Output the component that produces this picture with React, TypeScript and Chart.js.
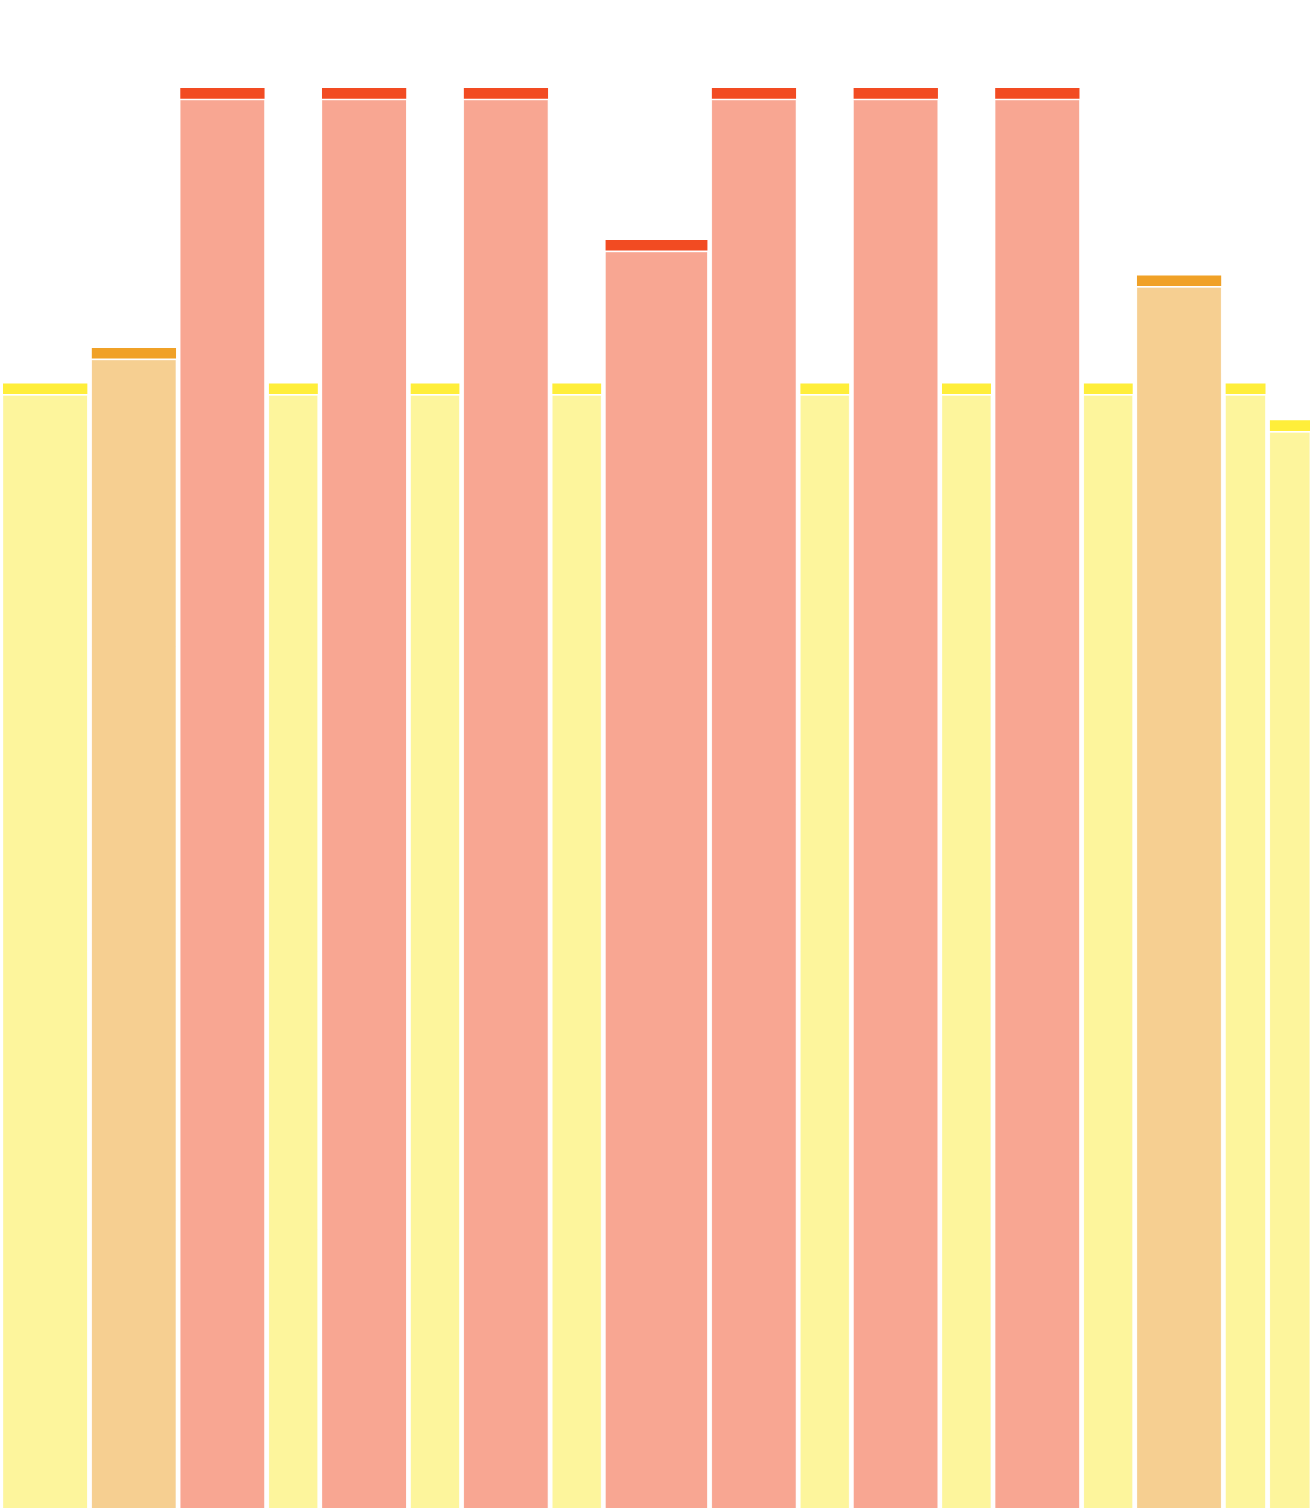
import React, { useEffect, useRef } from "react";
import { Chart, registerables } from "chart.js";

Chart.register(...registerables);

// relative column widths (in width units) and column values
const widths = [20, 20, 20, 12, 20, 12, 20, 12, 24, 20, 12, 20, 12, 20, 12, 20, 10, 10];
const values = [79.2, 81.7, 100, 79.2, 100, 79.2, 100, 79.2, 89.3, 100, 79.2, 100, 79.2, 100, 79.2, 86.8, 79.2, 76.6];

const tiers = [
  { min: 88, strip: "#F24B22", fill: "#F8A692" },
  { min: 80, strip: "#F0A127", fill: "#F6CF91" },
  { min: 0, strip: "#FFEE3A", fill: "#FDF59C" }
];

const Y_MAX = 106.2;
const GAP = 0.45; // half gap between columns, width units
const STRIP = 0.75; // strip height, value units
const STRIP_GAP = 0.1;

const tierFor = (v: number) => tiers.find((t) => v >= t.min) || tiers[2];

const buildDatasets = () => {
  const out: any[] = [];
  let left = 0;
  widths.forEach((w, i) => {
    const v = values[i];
    const t = tierFor(v);
    const x0 = left + GAP;
    const x1 = left + w - GAP;
    const top = v - STRIP - STRIP_GAP;
    out.push({
      data: [
        { x: x0, y: 0 },
        { x: x0, y: top },
        { x: x1, y: top },
        { x: x1, y: 0 }
      ],
      fill: "origin",
      backgroundColor: t.fill,
      borderColor: "rgba(255,255,255,0.35)",
      borderWidth: 1,
      pointRadius: 0,
      tension: 0
    });
    out.push({
      data: [
        { x: x0, y: v },
        { x: x1, y: v }
      ],
      fill: { value: v - STRIP },
      backgroundColor: t.strip,
      borderColor: "transparent",
      borderWidth: 1,
      pointRadius: 0,
      tension: 0
    });
    left += w;
  });
  return out;
};

const total = widths.reduce((a, b) => a + b, 0);

export default function App() {
  const chartRef = useRef<HTMLCanvasElement>(null);

  useEffect(() => {
    const chartInstance = new Chart(chartRef.current as HTMLCanvasElement, {
      type: "line",
      data: { datasets: buildDatasets() },
      options: {
        animation: false,
        responsive: true,
        maintainAspectRatio: false,
        layout: { padding: { left: 1, right: 0, top: 0, bottom: 0 } },
        plugins: {
          legend: { display: false },
          tooltip: { enabled: false }
        },
        scales: {
          x: { type: "linear", min: 0, max: total, display: false },
          y: { min: 0, max: Y_MAX, display: false }
        }
      }
    });

    return () => {
      chartInstance.destroy();
    };
  }, [chartRef]);

  return (
    <div style={{ position: "fixed", left: 0, top: 0, width: "100vw", height: "100vh", background: "#fff" }}>
      <canvas ref={chartRef} />
    </div>
  );
}
